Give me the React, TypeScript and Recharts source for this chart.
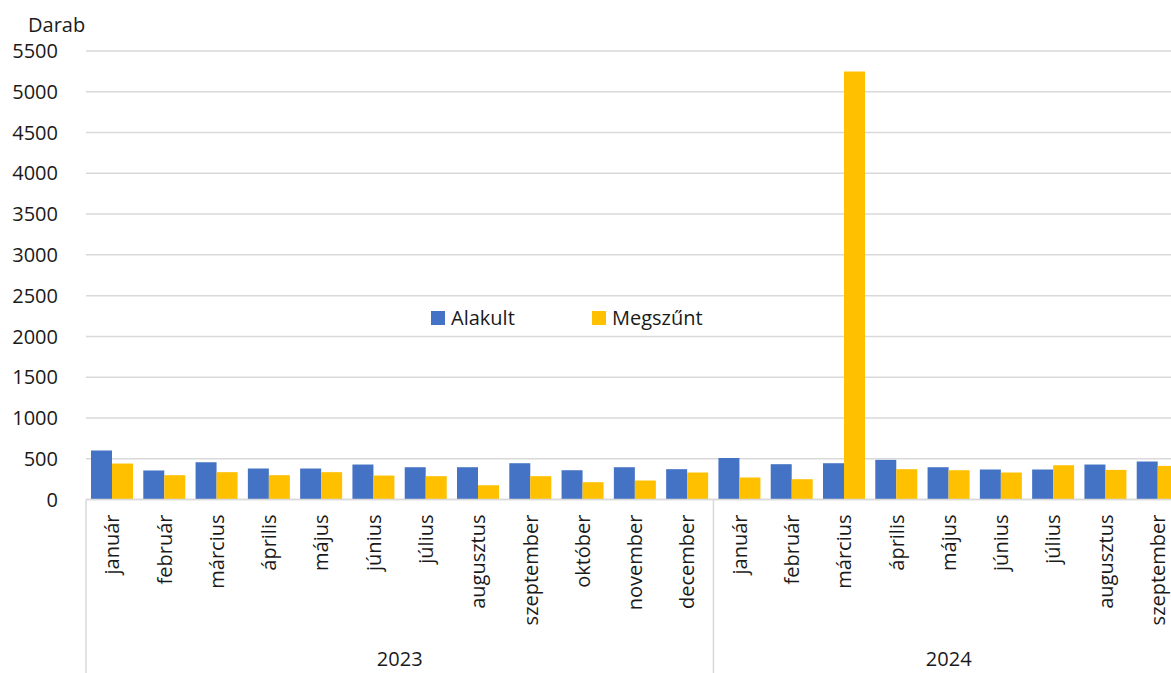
import React from 'react';
import { BarChart, Bar, XAxis, YAxis, CartesianGrid, Legend } from 'recharts';

const MONTHS_2023 = [
  'január', 'február', 'március', 'április', 'május', 'június',
  'július', 'augusztus', 'szeptember', 'október', 'november', 'december',
];
const MONTHS_2024 = [
  'január', 'február', 'március', 'április', 'május', 'június',
  'július', 'augusztus', 'szeptember',
];
const YEARS = ['2023', '2024'];

// rounded
const ALAKULT_2023 = [601, 356, 457, 380, 380, 429, 396, 396, 445, 359, 396, 372];
const MEGSZUNT_2023 = [441, 298, 335, 298, 335, 294, 286, 175, 286, 212, 233, 331];
const ALAKULT_2024 = [510, 433, 445, 486, 396, 368, 368, 429, 466];
const MEGSZUNT_2024 = [270, 249, 5250, 372, 359, 331, 420, 363, 412];

const SERIES_NAMES = ['Alakult', 'Megszűnt'];
const Y_TICKS = [0, 500, 1000, 1500, 2000, 2500, 3000, 3500, 4000, 4500, 5000, 5500];
const Y_LABEL = 'Darab';

const FONT = '"Open Sans", sans-serif';
const BLUE = '#4472C4';
const GOLD = '#FFC000';
const GRID = '#d9d9d9';
const TEXT = '#1a1a1a';
const X_AXIS_HEIGHT = 173.5;

const chartData = [
  ...MONTHS_2023.map((m, i) => ({
    month: m,
    year: YEARS[0],
    alakult: ALAKULT_2023[i],
    megszunt: MEGSZUNT_2023[i],
  })),
  ...MONTHS_2024.map((m, i) => ({
    month: m,
    year: YEARS[1],
    alakult: ALAKULT_2024[i],
    megszunt: MEGSZUNT_2024[i],
  })),
];

function MonthTick(props: any) {
  const { x, y, payload, index } = props;
  const half = payload && payload.offset ? payload.offset : 26.15;
  const row = chartData[index];
  if (!row) return null;
  const first = chartData.findIndex((d) => d.year === row.year);
  let last = first;
  while (last + 1 < chartData.length && chartData[last + 1].year === row.year) last++;
  const isFirst = index === first;
  const isEnd = index === chartData.length - 1;
  const groupCenter = x + ((first + last) / 2 - index) * half * 2;
  const labelY = y + 15;

  return (
    <g>
      <text
        x={x}
        y={labelY}
        transform={`rotate(-90, ${x}, ${labelY})`}
        textAnchor="end"
        dy="0.36em"
        fill={TEXT}
        fontSize={20}
        fontFamily={FONT}
      >
        {row.month}
      </text>
      {isFirst && (
        <>
          <line x1={x - half} x2={x - half} y1={y} y2={y + X_AXIS_HEIGHT} stroke={GRID} strokeWidth={1.5} />
          <text
            x={groupCenter}
            y={y + 166}
            textAnchor="middle"
            fill={TEXT}
            fontSize={20}
            fontFamily={FONT}
          >
            {row.year}
          </text>
        </>
      )}
      {isEnd && (
        <line x1={x + half} x2={x + half} y1={y} y2={y + X_AXIS_HEIGHT} stroke={GRID} strokeWidth={1.5} />
      )}
    </g>
  );
}

function renderLegend() {
  const colors = [BLUE, GOLD];
  return (
    <div style={{ display: 'flex', fontFamily: FONT, fontSize: 20, color: TEXT, lineHeight: '28px' }}>
      {SERIES_NAMES.map((name, i) => (
        <div key={name} style={{ display: 'flex', alignItems: 'center', width: 161 }}>
          <span style={{ width: 14, height: 14, background: colors[i], marginRight: 6, display: 'inline-block' }} />
          <span>{name}</span>
        </div>
      ))}
    </div>
  );
}

export default function App() {
  return (
    <div
      style={{
        position: 'absolute',
        left: 0,
        top: 0,
        width: 1171,
        height: 673,
        overflow: 'hidden',
        background: '#fff',
      }}
    >
      <BarChart
        width={1190}
        height={673}
        data={chartData}
        margin={{ top: 51, right: 6, left: 0, bottom: 0 }}
        barCategoryGap={5}
        barGap={0}
      >
        <CartesianGrid vertical={false} stroke={GRID} strokeWidth={1.5} />
        <XAxis
          dataKey="month"
          interval={0}
          height={X_AXIS_HEIGHT}
          tickSize={0}
          tickMargin={0}
          tickLine={false}
          axisLine={{ stroke: GRID, strokeWidth: 1.5 }}
          tick={<MonthTick />}
        />
        <YAxis
          width={86}
          domain={[0, 5500]}
          ticks={Y_TICKS}
          interval={0}
          axisLine={false}
          tickLine={false}
          tickSize={0}
          tickMargin={28}
          tick={{ fill: TEXT, fontSize: 20, fontFamily: FONT }}
          label={(p: any) => (
            <text
              x={(p.viewBox?.x ?? 0) + 28}
              y={(p.viewBox?.y ?? 51) - 19}
              fill={TEXT}
              fontSize={20}
              fontFamily={FONT}
            >
              {Y_LABEL}
            </text>
          )}
        />
        <Legend
          layout="horizontal"
          verticalAlign="middle"
          align="center"
          content={renderLegend}
          wrapperStyle={{ left: 431, top: 304, width: 340 }}
        />
        <Bar dataKey="alakult" name={SERIES_NAMES[0]} fill={BLUE} isAnimationActive={false} />
        <Bar dataKey="megszunt" name={SERIES_NAMES[1]} fill={GOLD} isAnimationActive={false} />
      </BarChart>
    </div>
  );
}
